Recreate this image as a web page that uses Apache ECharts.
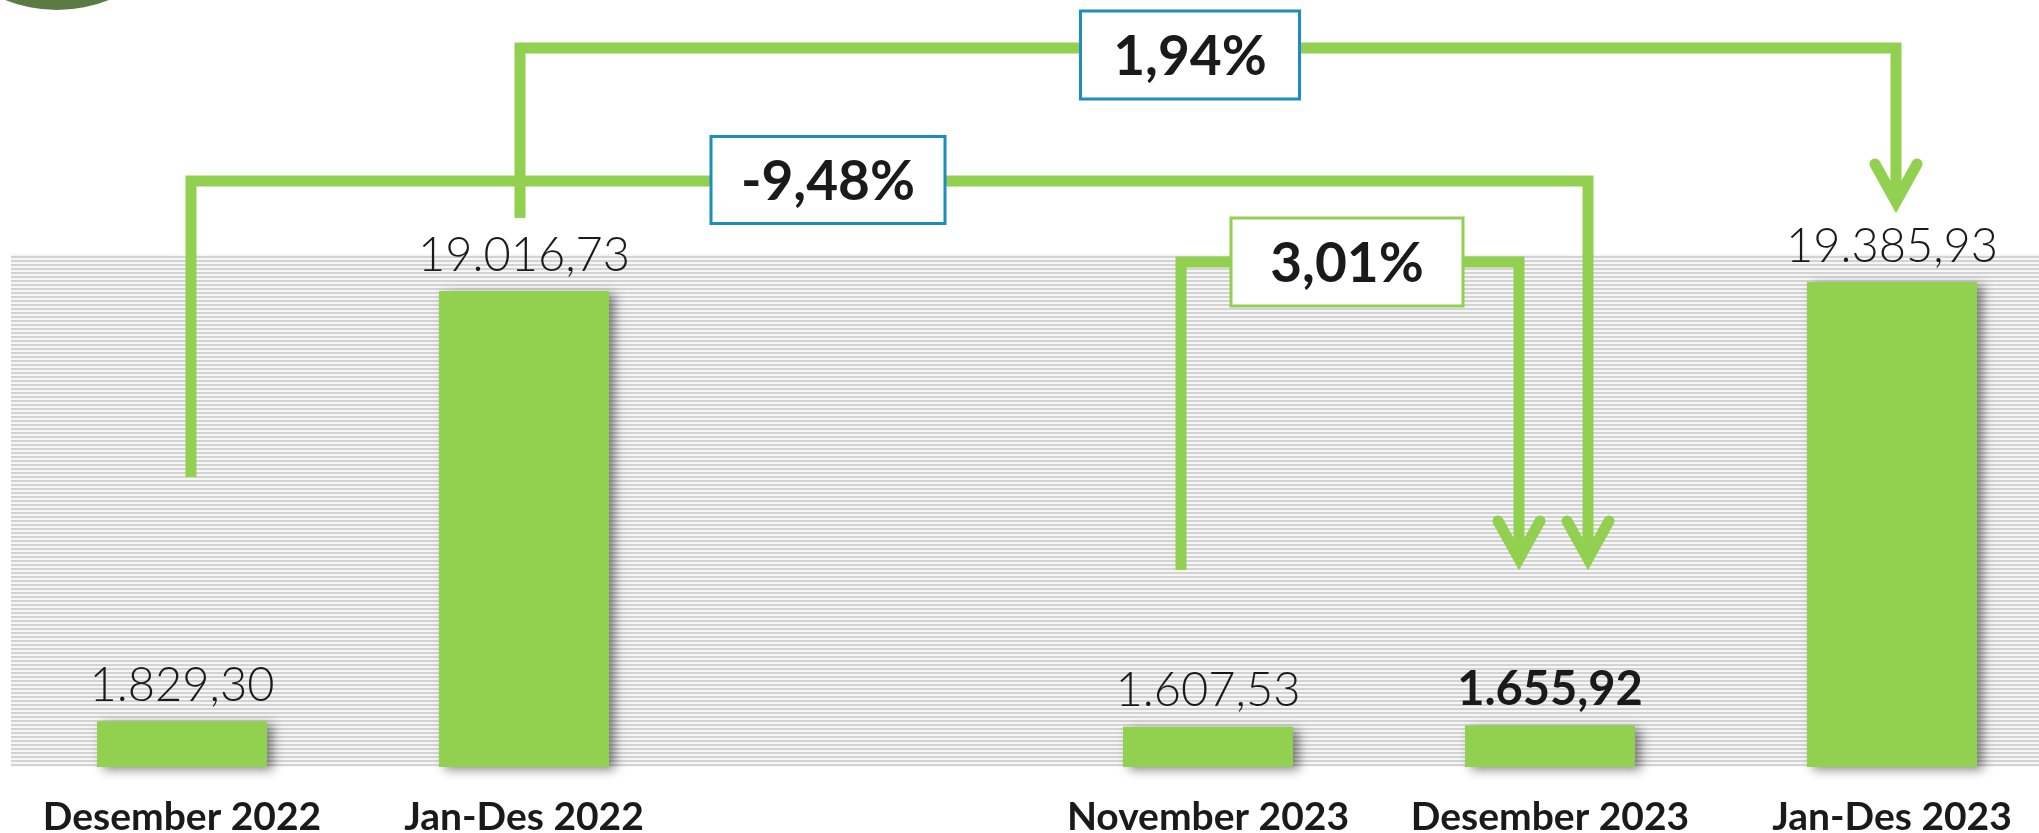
<!DOCTYPE html>
<html>
<head>
<meta charset="utf-8">
<script src="https://cdn.jsdelivr.net/npm/echarts@6/dist/echarts.min.js"></script>
<style>
  html, body { margin: 0; padding: 0; background: #ffffff; }
  #chart { width: 2039px; height: 833px; }
</style>
</head>
<body>
<div id="chart"></div>
<script>
// ---- data ----
const categories = ['Desember 2022', 'Jan-Des 2022', '', 'November 2023', 'Desember 2023', 'Jan-Des 2023'];
const values = [1829.30, 19016.73, null, 1607.53, 1655.92, 19385.93];
const valueLabels = ['1.829,30', '19.016,73', '', '1.607,53', '1.655,92', '19.385,93'];
const boldLabelCategory = 'Desember 2023';

const compFrom = ['Jan-Des 2022', 'Desember 2022', 'November 2023'];
const compTo = ['Jan-Des 2023', 'Desember 2023', 'Desember 2023'];
const compLabels = ['1,94%', '-9,48%', '3,01%'];

// ---- layout / style of the comparison connectors (pixels) ----
const connectorLayout = [
  { level: 48,  startOffset: -4,  startBottom: 218, endOffset: 4,   tip: 213,
    box: { cx: 1190, cy: 55,  w: 219, h: 88 }, border: '#1b8dbf' },
  { level: 181, startOffset: 9,   startBottom: 477, endOffset: 38,  tip: 570,
    box: { cx: 828,  cy: 180, w: 234, h: 87 }, border: '#1b8dbf' },
  { level: 262, startOffset: -27, startBottom: 570, endOffset: -31, tip: 570,
    box: { cx: 1347, cy: 262, w: 232, h: 88 }, border: '#92d050' }
];
const GREEN = '#92d050';
const LINE_W = 11;

// striped background pattern
const pat = document.createElement('canvas');
pat.width = 4; pat.height = 4;
const pctx = pat.getContext('2d');
pctx.fillStyle = '#f6f6f6'; pctx.fillRect(0, 0, 4, 4);
pctx.fillStyle = '#d3d3d3'; pctx.fillRect(0, 0, 4, 2);

const chart = echarts.init(document.getElementById('chart'), null, { renderer: 'canvas' });

const barData = values.map((v, i) => {
  const item = { value: v };
  if (categories[i] === boldLabelCategory) {
    item.label = { fontWeight: 'bold' };
  }
  return item;
});

chart.setOption({
  animation: false,
  backgroundColor: '#ffffff',
  grid: {
    left: 11, top: 254, width: 2052, height: 513,
    outerBoundsMode: 'none',
    containLabel: false,
    show: true,
    backgroundColor: { image: pat, repeat: 'repeat' },
    borderWidth: 0
  },
  xAxis: {
    type: 'category',
    data: categories,
    boundaryGap: true,
    axisLine: { show: false },
    axisTick: { show: false },
    axisLabel: {
      interval: 0,
      margin: 31,
      fontFamily: 'Lato',
      fontWeight: 'bold',
      fontSize: 39,
      color: '#1a1a1a'
    }
  },
  yAxis: {
    type: 'value',
    min: 0, max: 20500,
    show: false,
    splitLine: { show: false }
  },
  series: [{
    type: 'bar',
    data: barData,
    barWidth: 170,
    itemStyle: {
      color: GREEN,
      shadowBlur: 10,
      shadowColor: 'rgba(0,0,0,0.45)',
      shadowOffsetX: 6,
      shadowOffsetY: 3
    },
    label: {
      show: true,
      position: 'top',
      distance: 12,
      fontFamily: 'Lato',
      fontWeight: 300,
      fontSize: 47,
      color: '#1a1a1a',
      formatter: p => valueLabels[p.dataIndex]
    }
  }]
});

function buildGraphics() {
  const els = [];
  // decorative logo circle, top-left
  els.push({ type: 'circle', shape: { cx: 57, cy: -130, r: 140 }, style: { fill: '#5c7a44' }, z: 10 });

  compLabels.forEach((lab, i) => {
    const L = connectorLayout[i];
    const x1 = chart.convertToPixel({ xAxisIndex: 0 }, compFrom[i]) + L.startOffset;
    const x2 = chart.convertToPixel({ xAxisIndex: 0 }, compTo[i]) + L.endOffset;
    const vertex = L.tip - 11;
    els.push({
      type: 'polyline', z: 20,
      shape: { points: [[x1, L.startBottom], [x1, L.level], [x2, L.level], [x2, vertex]] },
      style: { stroke: GREEN, lineWidth: LINE_W, fill: null, lineJoin: 'miter', lineCap: 'butt' }
    });
    els.push({
      type: 'polyline', z: 20,
      shape: { points: [[x2 - 21, vertex - 38], [x2, vertex], [x2 + 21, vertex - 38]] },
      style: { stroke: GREEN, lineWidth: LINE_W, fill: null, lineJoin: 'miter', miterLimit: 10, lineCap: 'round' }
    });
    const b = L.box;
    els.push({
      type: 'rect', z: 30,
      shape: { x: b.cx - b.w / 2, y: b.cy - b.h / 2, width: b.w, height: b.h },
      style: { fill: '#ffffff', stroke: L.border, lineWidth: 3 }
    });
    els.push({
      type: 'text', z: 31,
      x: b.cx, y: b.cy + 2,
      style: {
        text: lab, fill: '#1a1a1a',
        font: 'bold 55px Lato',
        align: 'center', verticalAlign: 'middle'
      }
    });
  });
  return els;
}

chart.setOption({ graphic: { elements: buildGraphics() } });
</script>
</body>
</html>
